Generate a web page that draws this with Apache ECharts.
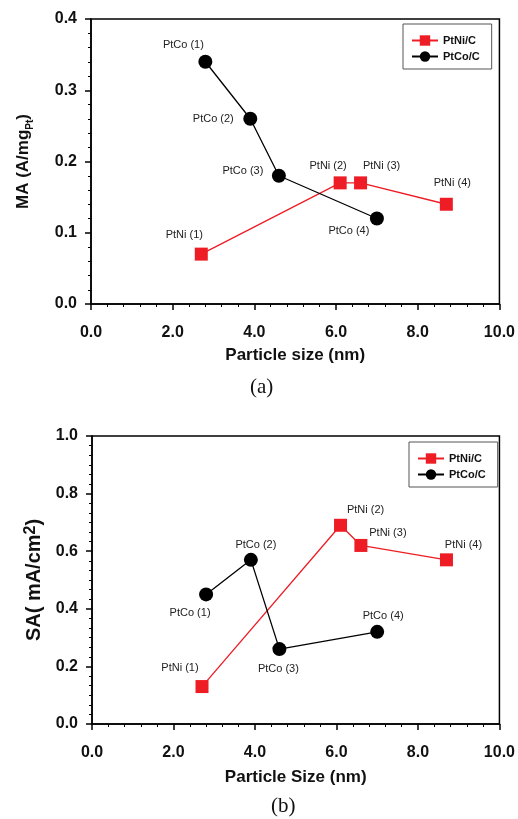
<!DOCTYPE html>
<html>
<head>
<meta charset="utf-8">
<script src="https://cdn.jsdelivr.net/npm/echarts@6/dist/echarts.min.js"></script>
<style>
  html, body { margin: 0; padding: 0; background: #fff; }
  #main { width: 518px; height: 819px; }
</style>
</head>
<body>
<div id="main"></div>
<script>
// particle sizes (nm)
const sizeNi = [2.7, 6.1, 6.6, 8.7];
const sizeCo = [2.8, 3.9, 4.6, 7.0];
// mass activity (A/mg_Pt)
const maNi = [0.07, 0.17, 0.17, 0.14];
const maCo = [0.34, 0.26, 0.18, 0.12];
// specific activity (mA/cm2)
const saNi = [0.13, 0.69, 0.62, 0.57];
const saCo = [0.45, 0.57, 0.26, 0.32];
const niNames = ['PtNi (1)', 'PtNi (2)', 'PtNi (3)', 'PtNi (4)'];
const coNames = ['PtCo (1)', 'PtCo (2)', 'PtCo (3)', 'PtCo (4)'];
const seriesNames = ['PtNi/C', 'PtCo/C'];

// label offsets (px from marker centre)
const offA = {
  ni: [[-17, -19], [-12, -17], [21, -17], [6, -21]],
  co: [[-22, -17], [-37, 0], [-36, -5], [-28, 12]]
};
const offB = {
  ni: [[-22, -19], [25, -15], [27, -12], [17, -15]],
  co: [[-16, 19], [5, -15], [-1, 20], [6, -16]]
};

const RED = '#ee1c24';
const FONT = 'Liberation Sans, Arial, sans-serif';

function pts(xs, ys, names, offs) {
  return xs.map((x, i) => ({
    name: names[i],
    value: [x, ys[i]],
    label: { offset: offs[i] }
  }));
}

function mkSeries(name, idx, data) {
  const ni = name === 'PtNi/C';
  return {
    name: name,
    type: 'line',
    xAxisIndex: idx,
    yAxisIndex: idx,
    data: data,
    symbol: ni ? 'rect' : 'circle',
    symbolSize: ni ? 13 : 14,
    itemStyle: { color: ni ? RED : '#000' },
    lineStyle: { color: ni ? RED : '#000', width: 1.3 },
    label: {
      show: true,
      position: 'inside',
      formatter: '{b}',
      color: '#222',
      fontSize: 11,
      fontFamily: FONT
    },
    emphasis: { disabled: true },
    animation: false
  };
}

function xAx(idx, title) {
  return {
    type: 'value',
    gridIndex: idx,
    min: 0, max: 10, interval: 2,
    name: title,
    nameLocation: 'middle',
    nameGap: idx === 0 ? 43 : 45,
    nameTextStyle: { fontSize: 17, fontWeight: 'bold', color: '#111', fontFamily: FONT },
    axisLine: { lineStyle: { color: '#000', width: 1.5 } },
    axisTick: { show: true, inside: false, length: 6, lineStyle: { color: '#000', width: 1.5 } },
    minorTick: { show: true, splitNumber: 5, length: 3, lineStyle: { color: '#000', width: 1 } },
    axisLabel: {
      margin: 21, fontSize: 16, fontWeight: 'bold', color: '#111', fontFamily: FONT,
      formatter: v => v.toFixed(1)
    },
    splitLine: { show: false }
  };
}

function yAx(idx, max, interval, minorSplit, nameRich, gap) {
  return {
    type: 'value',
    gridIndex: idx,
    min: 0, max: max, interval: interval,
    name: nameRich,
    nameLocation: 'middle',
    nameGap: gap,
    nameRotate: 90,
    nameTextStyle: {
      color: '#111', fontFamily: FONT,
      rich: {
        n: { fontSize: idx === 0 ? 17 : 20, fontWeight: 'bold', fontFamily: FONT, color: '#111', lineHeight: 24 },
        s: { fontSize: 10, fontWeight: 'bold', fontFamily: FONT, color: '#111', verticalAlign: 'bottom', lineHeight: 24 },
        p: { fontSize: 16, fontWeight: 'bold', fontFamily: FONT, color: '#111', verticalAlign: 'top', lineHeight: 24 }
      }
    },
    axisLine: { lineStyle: { color: '#000', width: 1.5 } },
    axisTick: { show: true, inside: false, length: 6, lineStyle: { color: '#000', width: 1.5 } },
    minorTick: { show: true, splitNumber: minorSplit, length: 3, lineStyle: { color: '#000', width: 1 } },
    axisLabel: {
      margin: 14, fontSize: 16, fontWeight: 'bold', color: '#111', fontFamily: FONT,
      formatter: v => v.toFixed(1)
    },
    splitLine: { show: false }
  };
}

function mkLegend(left, top) {
  return {
    data: seriesNames,
    orient: 'vertical',
    left: left, top: top,
    itemWidth: 26, itemHeight: 13,
    itemGap: 5,
    padding: [11, 12, 7, 8],
    borderColor: '#555', borderWidth: 1,
    selectedMode: false,
    textStyle: { fontSize: 11, fontWeight: 'bold', color: '#111', fontFamily: FONT }
  };
}

const chart = echarts.init(document.getElementById('main'));
chart.setOption({
  backgroundColor: '#fff',
  animation: false,
  grid: [
    { left: 91, top: 19, width: 410, height: 285, show: true, borderColor: '#000', borderWidth: 1.5, backgroundColor: 'transparent' },
    { left: 92, top: 436, width: 410, height: 288, show: true, borderColor: '#000', borderWidth: 1.5, backgroundColor: 'transparent' }
  ],
  legend: [mkLegend(403, 24), mkLegend(409, 442)],
  xAxis: [xAx(0, 'Particle size (nm)'), xAx(1, 'Particle Size (nm)')],
  yAxis: [
    yAx(0, 0.4, 0.1, 5, '{n|MA (A/mg}{s|Pt}{n|)}', 56),
    yAx(1, 1.0, 0.2, 6, '{n|SA( mA/cm}{p|2}{n|)}', 43)
  ],
  series: [
    mkSeries('PtNi/C', 0, pts(sizeNi, maNi, niNames, offA.ni)),
    mkSeries('PtCo/C', 0, pts(sizeCo, maCo, coNames, offA.co)),
    mkSeries('PtNi/C', 1, pts(sizeNi, saNi, niNames, offB.ni)),
    mkSeries('PtCo/C', 1, pts(sizeCo, saCo, coNames, offB.co))
  ],
  graphic: [
    { type: 'text', left: 250, top: 377, style: { text: '(a)', font: '21px "Liberation Serif", serif', fill: '#111' } },
    { type: 'text', left: 271, top: 796, style: { text: '(b)', font: '21px "Liberation Serif", serif', fill: '#111' } }
  ]
});
</script>
</body>
</html>
